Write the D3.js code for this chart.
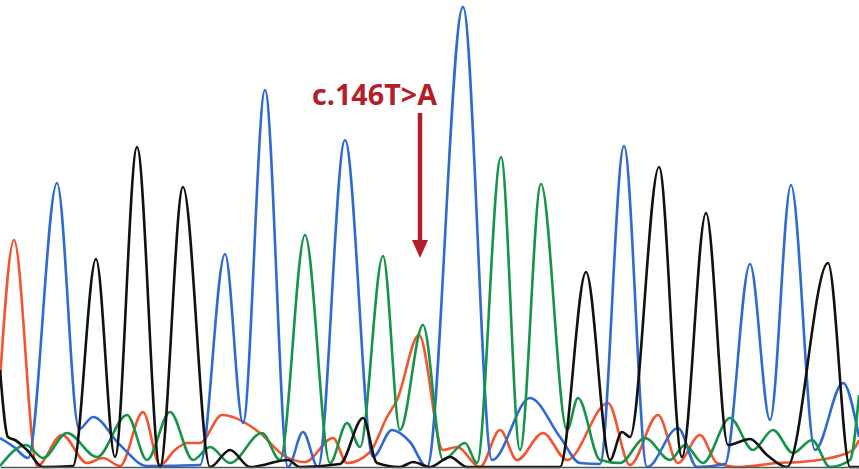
<!DOCTYPE html>
<html>
<head>
<meta charset="utf-8">
<script src="https://cdn.jsdelivr.net/npm/d3@7"></script>
<style>
  body { margin: 0; background: #fff; }
  svg { display: block; }
</style>
</head>
<body>
<script>
//Declare const variables
    const width = 859;
    const height = 469;
    const baseY = 467;

//Trace data: [scan position, signal]
    const traceA = [ // green
        [0,1],[26,22],[43,9],[67,34],[97,10],[127,52],[147,7],[170,55],[193,7],[210,20],[230,4],
        [262,34],[280,7],[305,232],[330,4],[347,44],[360,20],[383,211],[400,37],[423,142],[443,7],
        [465,24],[477,4],[501,310],[520,17],[541,283],[567,37],[578,69],[600,7],[620,4],[645,29],
        [670,7],[685,22],[703,4],[730,49],[753,17],[773,37],[793,14],[812,27],[830,0],[850,7],[859,72]
    ];
    const traceC = [ // blue
        [0,29],[14,20],[28,9],[57,284],[79,38],[93,50],[120,22],[147,1],[200,2],[225,213],[243,44],
        [265,377],[288,0],[303,35],[318,0],[345,327],[373,10],[392,37],[410,25],[427,0],[463,460],
        [492,7],[530,69],[560,30],[580,4],[600,3],[624,321],[647,0],[678,39],[697,0],[725,3],
        [750,203],[770,47],[791,282],[815,17],[843,84],[859,30]
    ];
    const traceG = [ // black
        [0,97],[8,30],[15,27],[27,17],[43,0],[73,1],[96,208],[115,10],[137,320],[160,0],[183,280],
        [210,0],[230,17],[250,0],[288,7],[300,0],[340,3],[363,49],[377,4],[400,0],[413,5],[430,0],
        [450,10],[467,0],[560,0],[586,195],[610,7],[622,35],[630,30],[659,300],[682,10],[706,254],
        [728,22],[750,28],[767,12],[787,0],[828,204],[850,0],[859,0]
    ];
    const traceT = [ // red
        [0,87],[14,227],[37,1],[62,32],[87,4],[103,9],[120,1],[143,55],[160,2],[175,17],[187,24],
        [200,24],[222,52],[260,34],[283,12],[305,5],[333,29],[347,4],[370,15],[387,50],[397,67],
        [419,132],[443,17],[457,20],[480,0],[500,37],[517,7],[543,34],[567,7],[608,64],[630,2],
        [658,52],[678,4],[700,32],[717,4],[740,0],[777,4],[800,5],[830,9],[853,17],[859,27]
    ];

    const traces = [
        {name: "T", color: "#f3552f", points: traceT},
        {name: "C", color: "#2f6ad2", points: traceC},
        {name: "A", color: "#169448", points: traceA},
        {name: "G", color: "#111111", points: traceG}
    ];

    const mutationLabel = "c.146T>A";
    const mutationPos = 420;

//Scales
    const xScale = d3.scaleLinear()
        .domain([0, 859])
        .range([0, width]);

    const yScale = d3.scaleLinear()
        .domain([0, 460])
        .range([baseY, 7]);

//SVG
    const svg = d3.select("body")
        .append("svg")
        .attr("width", width)
        .attr("height", height);

    svg.append("rect")
        .attr("width", width)
        .attr("height", height)
        .attr("fill", "#fff");

//Draw traces
    const line = d3.line()
        .x(d => xScale(d[0]))
        .y(d => yScale(d[1]))
        .curve(d3.curveMonotoneX);

    svg.selectAll("path.trace")
        .data(traces)
        .join("path")
        .attr("class", "trace")
        .attr("d", d => line(d.points))
        .attr("fill", "none")
        .attr("stroke", d => d.color)
        .attr("stroke-width", 2.6)
        .attr("stroke-linejoin", "round");

//Baseline
    svg.append("g")
        .attr("transform", "translate(0," + baseY + ")")
        .call(d3.axisBottom(xScale).ticks(0).tickSize(0).tickFormat(""))
        .select(".domain")
        .attr("stroke", "#555")
        .attr("stroke-width", 1.5);

//Mutation arrow and label
    const arrowColor = "#b31f29";
    const ax = xScale(mutationPos);

    svg.append("line")
        .attr("x1", ax).attr("x2", ax)
        .attr("y1", 113).attr("y2", 244)
        .attr("stroke", arrowColor)
        .attr("stroke-width", 4.5);

    svg.append("path")
        .attr("d", `M${ax - 8},240 L${ax + 8},240 L${ax},258 Z`)
        .attr("fill", arrowColor);

    svg.append("text")
        .attr("x", 312)
        .attr("y", 105)
        .attr("textLength", 125)
        .attr("lengthAdjust", "spacingAndGlyphs")
        .attr("font-family", "'Open Sans', sans-serif")
        .attr("font-weight", "bold")
        .attr("font-size", 29)
        .attr("fill", arrowColor)
        .text(mutationLabel);
</script>
</body>
</html>
